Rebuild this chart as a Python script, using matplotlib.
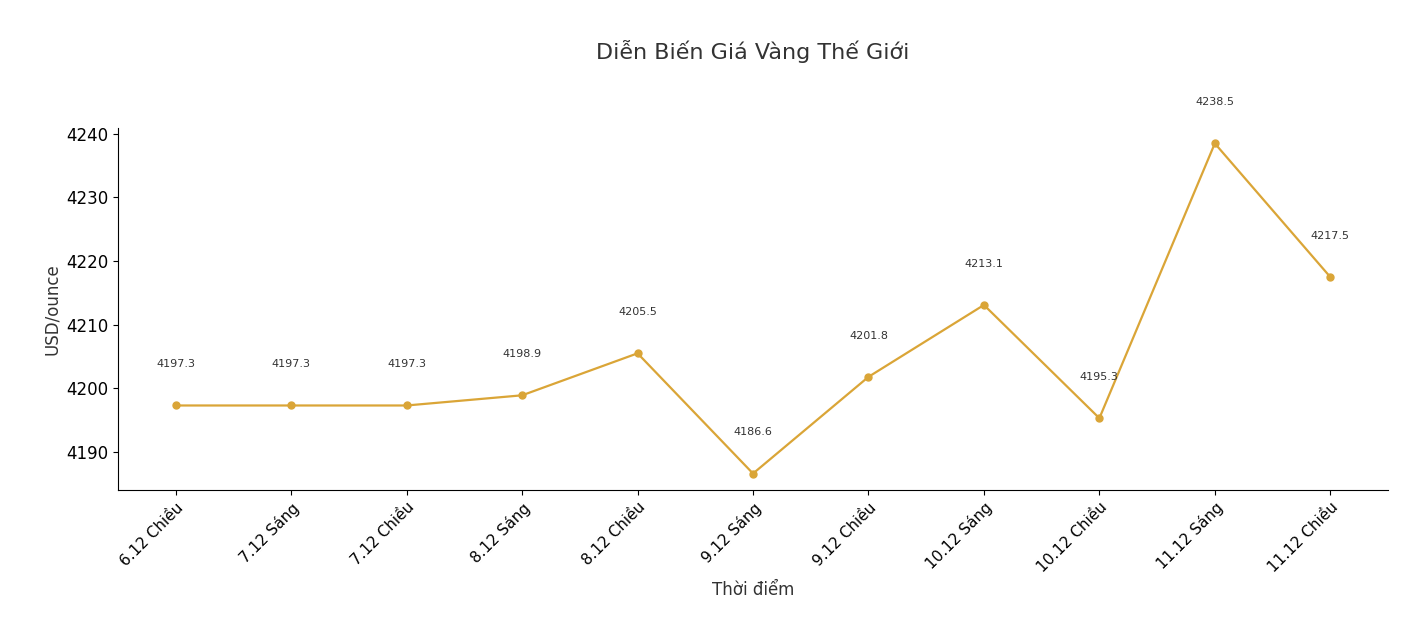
import matplotlib.pyplot as plt

# Gold price data
labels = ["6.12 Chiều", "7.12 Sáng", "7.12 Chiều", "8.12 Sáng", "8.12 Chiều",
          "9.12 Sáng", "9.12 Chiều", "10.12 Sáng", "10.12 Chiều", "11.12 Sáng", "11.12 Chiều"]
prices = [4197.3, 4197.3, 4197.3, 4198.9, 4205.5, 4186.6, 4201.8, 4213.1, 4195.3, 4238.5, 4217.5]

fig = plt.figure(figsize=(14.12, 6.44), dpi=100)
ax = fig.add_axes([0.0836, 0.239, 0.8994, 0.563])

x = list(range(len(labels)))
ax.plot(x, prices, color="#DAA537", marker="o", markersize=5, linewidth=1.6)

for xi, p in zip(x, prices):
    ax.annotate(f"{p}", (xi, p), textcoords="offset points", xytext=(0, 26),
                ha="center", va="bottom", fontsize=8, color="#333333")

ax.set_xlim(-0.5, len(labels) - 0.5)
ax.set_ylim(4184.0, 4241.0)
ax.set_yticks([4190, 4200, 4210, 4220, 4230, 4240])
ax.set_xticks(x)
ax.set_xticklabels(labels, rotation=45, ha="right", rotation_mode="anchor", fontsize=11)
ax.tick_params(axis="y", labelsize=12)
ax.spines["top"].set_visible(False)
ax.spines["right"].set_visible(False)

ax.set_xlabel("Thời điểm", fontsize=12, color="#333333")
ax.set_ylabel("USD/ounce", fontsize=12, color="#333333")
fig.text(0.533, 0.92, "Diễn Biến Giá Vàng Thế Giới", ha="center", va="center",
         fontsize=16, color="#333333")

plt.savefig("out.png", dpi=100)
